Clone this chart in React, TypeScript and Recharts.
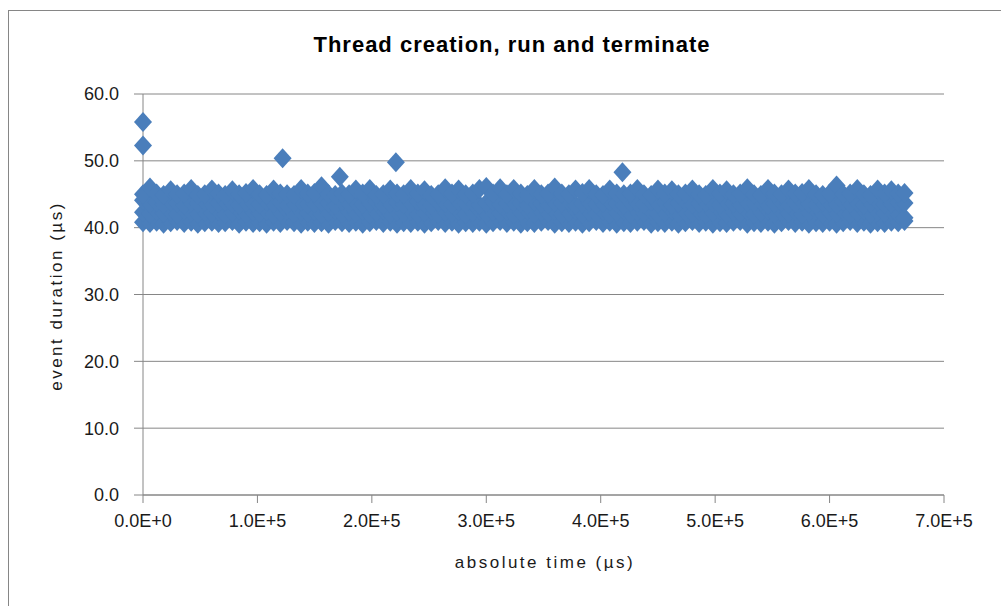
import { ScatterChart, Scatter, XAxis, YAxis, CartesianGrid } from 'recharts';

// absolute time (µs) of each sampled column of events
const times = [
  0, 6100, 11900, 18000, 24200, 29800, 36000, 42100, 47900, 54000,
  60200, 66000, 71800, 78100, 84000, 90000, 96200, 101900, 108000, 114100,
  120000, 125900, 132000, 138200, 144000, 149800, 156000, 162100, 168000, 173900,
  180100, 186000, 192000, 198200, 203900, 210000, 216100, 222000, 227800, 234000,
  240200, 246000, 251900, 258000, 264100, 270000, 275800, 282000, 288200, 294000,
  300000, 305900, 312100, 318000, 324000, 330200, 335900, 342000, 348100, 354000,
  359800, 366000, 372200, 378000, 384000, 389900, 396100, 402000, 407900, 414000,
  420200, 426000, 432000, 437800, 444100, 450000, 456000, 462200, 467900, 474000,
  480100, 486000, 491800, 498000, 504200, 510000, 516000, 521900, 528100, 534000,
  540000, 546200, 551800, 558000, 564100, 570000, 576000, 581900, 588200, 594000,
  600000, 606100, 611900, 618000, 624200, 630000, 635800, 642000, 648100, 654000,
  660000, 665500,
];

// event durations (µs), slowest events of each column
const durationsHigh = [
  45.0, 46.0, 45.1, 44.9, 45.6, 45.0, 45.1, 45.8, 44.9, 45.0,
  45.7, 45.1, 44.9, 45.6, 45.0, 45.2, 45.8, 45.0, 44.9, 45.7,
  45.1, 45.0, 44.9, 45.8, 45.1, 45.2, 46.2, 45.0, 44.9, 45.1,
  45.0, 45.7, 45.1, 45.8, 44.9, 45.0, 45.7, 45.1, 45.0, 45.8,
  45.1, 45.6, 44.9, 45.0, 45.9, 45.1, 45.7, 45.0, 45.1, 45.8,
  46.1, 45.1, 45.9, 45.0, 45.8, 45.1, 44.9, 45.8, 45.0, 45.1,
  46.0, 45.1, 45.0, 45.7, 45.2, 45.8, 45.0, 44.9, 45.7, 45.1,
  45.0, 45.1, 45.8, 45.0, 44.9, 45.7, 45.1, 45.6, 45.0, 45.1,
  45.7, 45.0, 44.9, 45.8, 45.1, 45.6, 45.0, 45.1, 45.9, 45.0,
  44.9, 45.8, 45.1, 45.0, 45.7, 45.1, 45.2, 45.8, 45.0, 44.9,
  45.1, 46.3, 45.0, 45.1, 45.8, 45.0, 44.9, 45.7, 45.1, 45.6,
  45.1, 45.2,
];

const durationsMidHigh = [
  44.1, 43.6, 43.8, 43.5, 43.9, 43.7, 43.4, 43.8, 43.6, 43.9,
  43.5, 43.7, 43.9, 43.6, 43.4, 43.8, 43.7, 43.5, 43.9, 43.6,
  43.8, 43.4, 43.7, 43.9, 43.5, 43.6, 43.8, 43.7, 43.4, 43.9,
  43.6, 43.8, 43.5, 43.7, 43.9, 43.4, 43.6, 43.8, 43.5, 43.7,
  43.9, 43.6, 43.4, 43.8, 43.7, 43.5, 43.9, 43.6, 43.8, 43.4,
  43.7, 43.9, 43.5, 43.6, 43.8, 43.7, 43.4, 43.9, 43.6, 43.5,
  43.8, 43.7, 43.9, 43.4, 43.6, 43.8, 43.5, 43.7, 43.9, 43.6,
  43.4, 43.8, 43.7, 43.5, 43.9, 43.6, 43.8, 43.4, 43.7, 43.9,
  43.5, 43.6, 43.8, 43.7, 43.4, 43.9, 43.6, 43.5, 43.8, 43.7,
  43.9, 43.4, 43.6, 43.8, 43.5, 43.7, 43.9, 43.6, 43.4, 43.8,
  43.7, 43.5, 43.9, 43.6, 43.8, 43.4, 43.7, 43.9, 43.5, 43.6,
  43.8, 43.7,
];

const durationsMidLow = [
  42.3, 42.1, 42.5, 42.2, 42.4, 42.0, 42.6, 42.3, 42.1, 42.4,
  42.2, 42.5, 42.0, 42.3, 42.6, 42.1, 42.4, 42.2, 42.5, 42.0,
  42.3, 42.6, 42.1, 42.4, 42.2, 42.5, 42.0, 42.3, 42.6, 42.1,
  42.4, 42.2, 42.5, 42.0, 42.3, 42.6, 42.1, 42.4, 42.2, 42.5,
  42.0, 42.3, 42.6, 42.1, 42.4, 42.2, 42.5, 42.0, 42.3, 42.6,
  42.1, 42.4, 42.2, 42.5, 42.0, 42.3, 42.6, 42.1, 42.4, 42.2,
  42.5, 42.0, 42.3, 42.6, 42.1, 42.4, 42.2, 42.5, 42.0, 42.3,
  42.6, 42.1, 42.4, 42.2, 42.5, 42.0, 42.3, 42.6, 42.1, 42.4,
  42.2, 42.5, 42.0, 42.3, 42.6, 42.1, 42.4, 42.2, 42.5, 42.0,
  42.3, 42.6, 42.1, 42.4, 42.2, 42.5, 42.0, 42.3, 42.6, 42.1,
  42.4, 42.2, 42.5, 42.0, 42.3, 42.6, 42.1, 42.4, 42.2, 42.5,
  42.0, 41.5,
];

const durationsLow = [
  40.8, 40.7, 40.9, 40.6, 40.8, 41.0, 40.7, 40.9, 40.6, 40.8,
  40.9, 40.7, 40.8, 41.0, 40.6, 40.9, 40.7, 40.8, 40.6, 40.9,
  40.7, 41.0, 40.8, 40.6, 40.9, 40.7, 40.8, 40.6, 41.0, 40.8,
  40.7, 40.9, 40.6, 40.8, 41.0, 40.7, 40.9, 40.6, 40.8, 40.7,
  40.9, 40.6, 40.8, 41.0, 40.7, 40.9, 40.6, 40.8, 40.7, 40.9,
  40.6, 40.8, 41.0, 40.7, 40.9, 40.6, 40.8, 40.7, 40.9, 41.0,
  40.6, 40.8, 40.7, 40.9, 40.6, 40.8, 41.0, 40.7, 40.9, 40.6,
  40.8, 40.7, 40.9, 41.0, 40.6, 40.8, 40.7, 40.9, 40.6, 40.8,
  41.0, 40.7, 40.9, 40.6, 40.8, 40.7, 40.9, 41.0, 40.6, 40.8,
  40.7, 40.9, 40.6, 40.8, 41.0, 40.7, 40.9, 40.6, 40.8, 40.7,
  40.9, 40.6, 40.8, 41.0, 40.7, 40.9, 40.6, 40.8, 40.7, 40.9,
  40.8, 41.0,
];

// the few slow events standing above the band
const outlierTimes = [0, 0, 122000, 172000, 221000, 419000];
const outlierDurations = [55.8, 52.3, 50.4, 47.6, 49.8, 48.3];

const xTicks = [0, 100000, 200000, 300000, 400000, 500000, 600000, 700000];
const xTickLabels = ['0.0E+0', '1.0E+5', '2.0E+5', '3.0E+5', '4.0E+5', '5.0E+5', '6.0E+5', '7.0E+5'];
const yTicks = [0, 10, 20, 30, 40, 50, 60];

const MARKER = '#4A7EBB';
const GRID = '#868686';
const FONT = '"Liberation Sans", Arial, sans-serif';

const points = [
  ...[durationsLow, durationsMidLow, durationsMidHigh, durationsHigh].flatMap((row) =>
    times.map((t, i) => ({ t, d: row[i] }))
  ),
  ...outlierTimes.map((t, i) => ({ t, d: outlierDurations[i] })),
];

function Diamond(props: any) {
  const { cx, cy } = props;
  if (cx == null || cy == null) return null;
  const rx = 9;
  const ry = 10;
  return (
    <path
      d={`M${cx},${cy - ry}L${cx + rx},${cy}L${cx},${cy + ry}L${cx - rx},${cy}Z`}
      fill={MARKER}
    />
  );
}

export default function App() {
  const tickStyle = { fontFamily: FONT, fontSize: 18, fill: '#1a1a1a' };
  return (
    <div style={{ position: 'fixed', inset: 0, overflow: 'hidden', background: '#fff' }}>
      {/* chart frame, cut off on the right and bottom */}
      <div
        style={{
          position: 'absolute',
          left: 8,
          top: 10,
          width: 1100,
          height: 700,
          border: `1px solid ${GRID}`,
        }}
      />
      <div
        style={{
          position: 'absolute',
          left: 512,
          top: 34,
          transform: 'translateX(-50%)',
          whiteSpace: 'nowrap',
          fontFamily: FONT,
          fontWeight: 'bold',
          fontSize: 22,
          lineHeight: '22px',
          letterSpacing: 1,
          color: '#000',
        }}
      >
        Thread creation, run and terminate
      </div>
      <div style={{ position: 'absolute', left: 0, top: 0 }}>
        <ScatterChart width={1001} height={606} margin={{ top: 94, right: 57, bottom: 71, left: 83 }}>
          <CartesianGrid horizontal vertical={false} stroke={GRID} />
          <XAxis
            type="number"
            dataKey="t"
            domain={[0, 700000]}
            ticks={xTicks}
            interval={0}
            height={40}
            tickSize={8}
            tickMargin={11}
            stroke={GRID}
            tick={tickStyle}
            tickFormatter={(v: number) => xTickLabels[xTicks.indexOf(v)]}
          />
          <YAxis
            type="number"
            dataKey="d"
            domain={[0, 60]}
            ticks={yTicks}
            interval={0}
            width={60}
            tickSize={9}
            tickMargin={15}
            stroke={GRID}
            tick={tickStyle}
            tickFormatter={(v: number) => v.toFixed(1)}
          />
          <Scatter data={points} shape={Diamond} fill={MARKER} isAnimationActive={false} />
        </ScatterChart>
      </div>
      <div
        style={{
          position: 'absolute',
          left: 545,
          top: 553,
          transform: 'translateX(-50%)',
          whiteSpace: 'nowrap',
          fontFamily: FONT,
          fontSize: 17,
          lineHeight: '20px',
          letterSpacing: 2.5,
          color: '#1a1a1a',
        }}
      >
        absolute time (µs)
      </div>
      <div
        style={{
          position: 'absolute',
          left: 57,
          top: 296,
          transform: 'translate(-50%, -50%) rotate(-90deg)',
          whiteSpace: 'nowrap',
          fontFamily: FONT,
          fontSize: 17,
          lineHeight: '20px',
          letterSpacing: 2.5,
          color: '#1a1a1a',
        }}
      >
        event duration (µs)
      </div>
    </div>
  );
}
